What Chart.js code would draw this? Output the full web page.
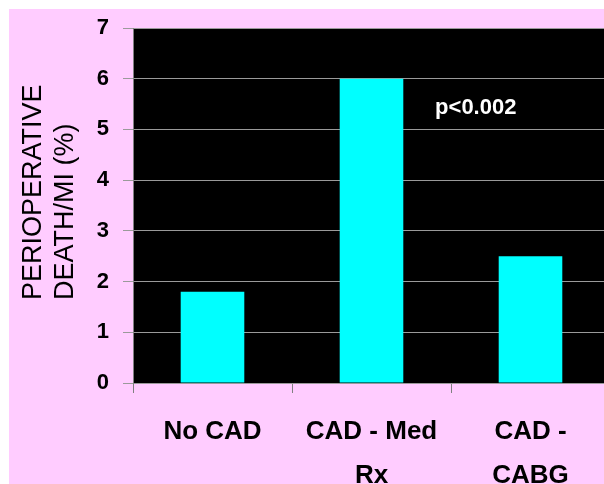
<!DOCTYPE html>
<html>
<head>
<meta charset="utf-8">
<script src="https://cdn.jsdelivr.net/npm/chart.js@4/dist/chart.umd.min.js"></script>
<style>
  html, body { margin: 0; padding: 0; background: #ffffff; overflow: hidden; }
  #wrap { position: absolute; left: 0; top: 0; width: 612px; height: 484px; }
</style>
</head>
<body>
<div id="wrap"><canvas id="chart" width="612" height="484"></canvas></div>
<script>
// Perioperative death/MI by group
const categories = [["No CAD"], ["CAD - Med", "Rx"], ["CAD -", "CABG"]];
const deathMiPercent = [1.8, 6.0, 2.5];
const yTickValues = [0, 1, 2, 3, 4, 5, 6, 7];
const yTitleLines = ["PERIOPERATIVE", "DEATH/MI (%)"];
const pValueText = "p<0.002";

const FONT = "'Liberation Sans', Arial, Helvetica, sans-serif";

// Page and plot backgrounds
const backdrop = {
  id: 'backdrop',
  beforeDraw(chart) {
    const { ctx, chartArea } = chart;
    ctx.save();
    ctx.fillStyle = '#ffffff';
    ctx.fillRect(0, 0, chart.width, chart.height);
    ctx.fillStyle = '#ffccff';
    ctx.fillRect(9, 9, chart.width, chart.height);
    ctx.fillStyle = '#000000';
    ctx.fillRect(chartArea.left, chartArea.top,
                 chartArea.right - chartArea.left, chartArea.bottom - chartArea.top);
    ctx.restore();
  }
};

// Two-line y axis title, lines left-aligned along the axis
const yTitle = {
  id: 'yTitle',
  afterDraw(chart) {
    const { ctx } = chart;
    ctx.save();
    ctx.font = `27px ${FONT}`;
    ctx.fillStyle = '#000000';
    ctx.textAlign = 'left';
    ctx.textBaseline = 'middle';
    const xs = [34, 66];
    yTitleLines.forEach((line, i) => {
      ctx.save();
      ctx.translate(xs[i], 300);
      ctx.rotate(-Math.PI / 2);
      ctx.fillText(line, 0, 0);
      ctx.restore();
    });
    ctx.restore();
  }
};

// Significance note inside the plot
const pNote = {
  id: 'pNote',
  afterDatasetsDraw(chart) {
    const { ctx, scales } = chart;
    ctx.save();
    ctx.font = `bold 22px ${FONT}`;
    ctx.fillStyle = '#ffffff';
    ctx.textAlign = 'left';
    ctx.textBaseline = 'middle';
    ctx.fillText(pValueText, scales.x.getPixelForValue(1.4), scales.y.getPixelForValue(5.42));
    ctx.restore();
  }
};

new Chart(document.getElementById('chart'), {
  type: 'bar',
  data: {
    labels: categories,
    datasets: [{
      data: deathMiPercent,
      backgroundColor: '#00ffff',
      borderWidth: 0,
      categoryPercentage: 1.0,
      barPercentage: 0.4
    }]
  },
  options: {
    responsive: false,
    animation: false,
    events: [],
    layout: { padding: { left: 0, top: 28, right: 2, bottom: 0 } },
    plugins: {
      legend: { display: false },
      tooltip: { enabled: false },
      title: { display: false }
    },
    scales: {
      x: {
        grid: {
          display: true,
          offset: true,
          drawOnChartArea: false,
          drawTicks: true,
          tickLength: 10,
          color: '#808080',
          lineWidth: 1
        },
        border: { display: false },
        ticks: {
          color: '#000000',
          font: { family: FONT, size: 26, weight: 'bold', lineHeight: 1.69 },
          padding: 17,
          maxRotation: 0,
          autoSkip: false
        },
        afterFit(scale) { scale.height = 101; }
      },
      y: {
        min: 0,
        max: 7,
        afterBuildTicks(scale) { scale.ticks = yTickValues.map(v => ({ value: v })); },
        grid: {
          color: '#9a9a9a',
          lineWidth: 1,
          drawTicks: true,
          tickLength: 10
        },
        border: { display: true, color: '#808080', width: 1 },
        ticks: {
          color: '#000000',
          font: { family: FONT, size: 22, weight: 'bold' },
          padding: 14
        },
        afterFit(scale) { scale.width = 133; }
      }
    }
  },
  plugins: [backdrop, yTitle, pNote]
});
</script>
</body>
</html>
